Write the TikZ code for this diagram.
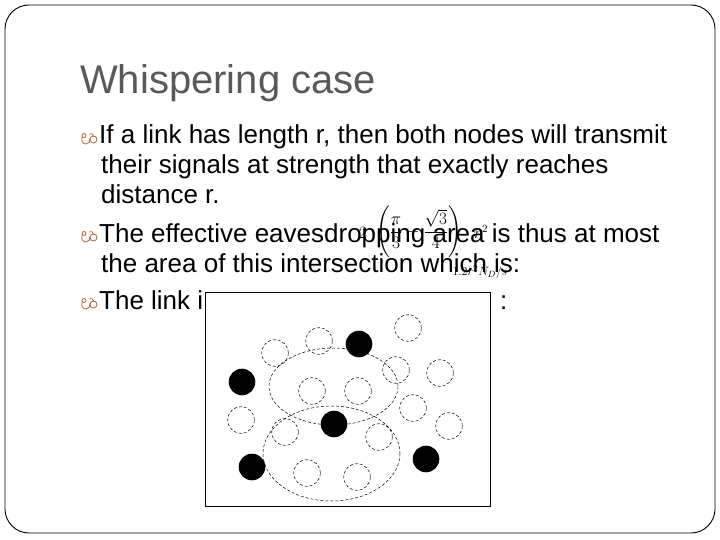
\documentclass[tikz,border=0pt]{standalone}
\usepackage{amsmath}
\usepackage{fontspec}
\setmainfont{Liberation Sans}
\usepackage{tikz}
\usetikzlibrary{positioning}
\definecolor{titlegray}{HTML}{595959}
\definecolor{bulletbrown}{HTML}{B0653A}

\tikzset{
  bulletmark/.pic={
    \draw[bulletbrown, line width=0.8pt] (3,-8.5) circle (2);
    \draw[bulletbrown, line width=0.8pt] (1.3,-7.5) .. controls (-0.5,-3) and (2,0) .. (5,0) .. controls (8,0) and (9.5,-3) .. (9,-5.5);
    \draw[bulletbrown, line width=0.8pt] (12.5,-4.5) circle (3.5);
    \draw[bulletbrown, line width=0.8pt] (12.5,-8) .. controls (12,-10.5) and (10,-11) .. (8.5,-10);
  }
}

\begin{document}
\begin{tikzpicture}[x=1pt,y=-1pt,
  body/.style={anchor=base west, inner sep=0pt, font=\fontsize{26}{30}\selectfont},
  formula/.style={inner sep=0pt, font=\fontsize{16}{19}\selectfont},
  sensor/.style={circle, draw, densely dashed, line width=0.5pt, minimum size=26.6pt, inner sep=0pt},
  eaves/.style={circle, fill=black, minimum size=26.6pt, inner sep=0pt},
  reach/.style={draw, densely dashed, line width=0.5pt}]
  \useasboundingbox (0,0) rectangle (720,540);
  \draw[line width=0.9pt, rounded corners=24pt] (5,5) rectangle (715,533);

  \node[anchor=base west, inner sep=0pt, text=titlegray, font=\fontsize{40}{48}\selectfont] (title) at (80,94) {Whispering case};

  % bullets and text lines
  \foreach \y in {144,242,309}
    \pic at (81,\y) {bulletmark};
  \node[body] (l1) at (99,144) {If a link has length r, then both nodes will transmit};
  \node[body] (l2) at (101,174) {their signals at strength that exactly reaches};
  \node[body] (l3) at (101,204) {distance r.};
  \node[body] (l4) at (99,242) {The effective eavesdropping area is thus at most};
  \node[body] (l5) at (101,272) {the area of this intersection which is:};
  \node[body] (l6) at (99,309) {The link i};
  \node[body] (colon) at (500,309) {:};

  % formula overlay
  \node[formula] (coef) at (363,233) {$2$};
  \node[formula] (lens) at (419,232) {$\left(\dfrac{\pi}{3}-\dfrac{\sqrt{3}}{4}\right)$};
  \node[formula] (rsq) at (481,232) {$r^{2}$};
  \node[formula, font=\fontsize{13}{15}\selectfont] (bound) at (480,272) {$1.2r^{2}N_{D}/s$};

  % network figure
  \draw[fill=white, line width=0.8pt] (205,292) rectangle (490,506);
  \foreach \x/\y [count=\i] in {275/353, 319/341, 408/328, 396/370, 440/373, 312/391, 358/391,
      413/408, 241/420, 449/426, 285/432, 379/437, 307/473, 357/477}
    \node[sensor] (s\i) at (\x,\y) {};
  \draw[reach] (333.5,386.5) ellipse [x radius=64.5, y radius=38.5];
  \draw[reach] (331.5,453.5) ellipse [x radius=68.5, y radius=47.5];
  \foreach \x/\y [count=\i] in {359/344, 242/382, 334/424, 252/467, 426/459}
    \node[eaves] (e\i) at (\x,\y) {};
\end{tikzpicture}
\end{document}
